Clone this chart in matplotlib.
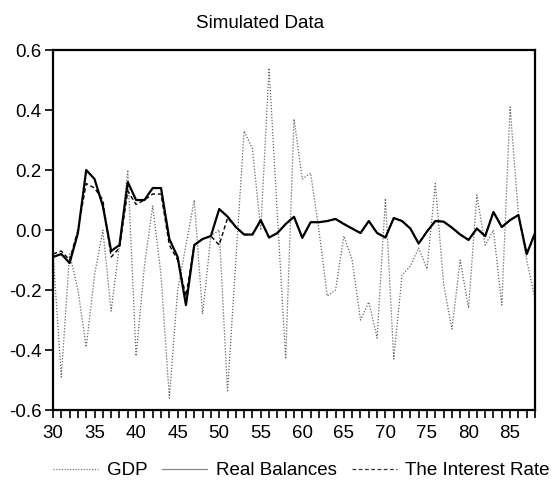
import numpy as np
import matplotlib
matplotlib.use("Agg")
import matplotlib.pyplot as plt
from matplotlib.lines import Line2D

plt.rcParams['font.family'] = ['Liberation Sans', 'DejaVu Sans']
plt.rcParams['axes.unicode_minus'] = False

# years 1930..1988, shown as 30..88
years = list(range(30, 89))

gdp = [-0.07, -0.49, -0.08, -0.20, -0.39, -0.15, 0.00, -0.27, -0.05, 0.20,
       -0.42, -0.12, 0.08, -0.15, -0.56, -0.20, -0.05, 0.10, -0.28, -0.02,
       0.00, -0.54, -0.10, 0.33, 0.27, 0.00, 0.54, 0.05, -0.43, 0.37,
       0.17, 0.19, 0.00, -0.22, -0.20, -0.02, -0.10, -0.30, -0.24, -0.36,
       0.105, -0.43, -0.15, -0.12, -0.06, -0.13, 0.155, -0.18, -0.33, -0.10,
       -0.26, 0.117, -0.05, 0.00, -0.25, 0.41, 0.05, -0.10, -0.23]

real_balances = [-0.09, -0.08, -0.11, -0.01, 0.20, 0.17, 0.08, -0.07, -0.05, 0.16,
                 0.10, 0.10, 0.14, 0.14, -0.03, -0.09, -0.25, -0.05, -0.03, -0.02,
                 0.07, 0.045, 0.01, -0.015, -0.015, 0.033, -0.025, -0.01, 0.02, 0.044,
                 -0.026, 0.026, 0.026, 0.03, 0.037, 0.02, 0.005, -0.01, 0.03, -0.01,
                 -0.025, 0.04, 0.03, 0.005, -0.045, -0.005, 0.03, 0.028, 0.008, -0.015,
                 -0.033, 0.005, -0.02, 0.06, 0.01, 0.033, 0.05, -0.08, -0.01]

interest_rate = [-0.08, -0.07, -0.10, 0.00, 0.155, 0.14, 0.10, -0.09, -0.06, 0.13,
                 0.085, 0.10, 0.12, 0.12, -0.05, -0.10, -0.22, -0.05, -0.03, -0.02,
                 -0.05, 0.04, 0.01, -0.015, -0.015, 0.033, -0.025, -0.01, 0.02, 0.044,
                 -0.026, 0.026, 0.026, 0.03, 0.037, 0.02, 0.005, -0.01, 0.03, -0.01,
                 -0.025, 0.04, 0.03, 0.005, -0.045, -0.005, 0.03, 0.028, 0.008, -0.015,
                 -0.033, 0.005, -0.02, 0.06, 0.01, 0.033, 0.05, -0.08, -0.01]

y_ticks = [0.6, 0.4, 0.2, 0.0, -0.2, -0.4, -0.6]
x_ticks = [30, 35, 40, 45, 50, 55, 60, 65, 70, 75, 80, 85]

fig = plt.figure(figsize=(5.53, 4.87), dpi=100)
ax = fig.add_axes([0.0958, 0.158, 0.8717, 0.7393])

ax.plot(years, gdp, color='#666666', lw=0.9, ls=(0, (1, 1.4)))
ax.plot(years, interest_rate, color='black', lw=1.0, ls=(0, (3, 2)))
ax.plot(years, real_balances, color='black', lw=1.6)

ax.set_xlim(30, 88)
ax.set_ylim(-0.6, 0.6)
ax.set_xticks(x_ticks)
ax.set_xticks(years, minor=True)
ax.set_yticks(y_ticks)
ax.set_yticklabels(['%.1f' % v for v in y_ticks])
ax.tick_params(axis='both', which='both', direction='out', labelsize=13.5,
               width=1.2, length=6, pad=2)
ax.tick_params(axis='x', which='both', pad=5)
for s in ax.spines.values():
    s.set_linewidth(1.6)

fig.text(0.47, 0.952, 'Simulated Data', ha='center', va='center', fontsize=13.5)

handles = [Line2D([], [], color='#777777', lw=0.9, ls=(0, (1, 1.2))),
           Line2D([], [], color='#888888', lw=0.9),
           Line2D([], [], color='#333333', lw=0.9, ls=(0, (3, 2)))]
fig.legend(handles, ['GDP', 'Real Balances', 'The Interest Rate'],
           loc='center', bbox_to_anchor=(0.545, 0.033), ncol=3, frameon=False,
           fontsize=13.5, handlelength=2.4, handletextpad=0.45, columnspacing=0.8)

fig.savefig('out.png', dpi=100)
